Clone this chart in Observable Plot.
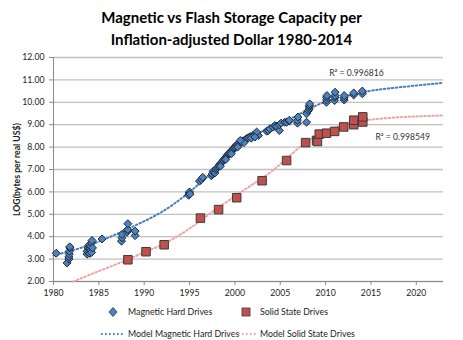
<!DOCTYPE html>
<html><head><meta charset="utf-8">
<script src="https://cdn.jsdelivr.net/npm/d3@7"></script>
<script src="https://cdn.jsdelivr.net/npm/@observablehq/plot@0.6"></script>
<style>
body{margin:0;background:#fff;font-family:Lato,"Open Sans",sans-serif;}
#wrap{position:relative;width:463px;height:340px;overflow:hidden;background:#fff;}
#title{position:absolute;left:0;top:6px;width:463px;text-align:center;font-weight:bold;font-size:15px;line-height:22px;color:#000;}
#chart{position:absolute;left:0;top:46px;}
.lg{position:absolute;font-size:8.8px;line-height:11px;color:#222;white-space:nowrap;}
.sw{position:absolute;}
g[aria-label="y-axis label"] text{font-weight:bold;}
</style>
</head><body>
<div id="wrap">
<div id="title">Magnetic vs Flash Storage Capacity per<br>Inflation-adjusted Dollar 1980-2014</div>
<div id="chart"></div>
<svg class="sw" style="left:108px;top:307px" width="10" height="10"><path d="M5,0.5L9,5L5,9.5L1,5Z" fill="#4f81bd" stroke="#1b2a3a" stroke-width="0.8"/></svg>
<div class="lg" style="left:128px;top:306px">Magnetic Hard Drives</div>
<svg class="sw" style="left:241px;top:307px" width="10" height="10"><rect x="1" y="1" width="8" height="8" fill="#c0504d" stroke="#3a3a3a" stroke-width="0.8"/></svg>
<div class="lg" style="left:260px;top:306px">Solid State Drives</div>
<svg class="sw" style="left:100px;top:331px" width="26" height="6"><line x1="1" y1="3" x2="25" y2="3" stroke="#4a7ebb" stroke-width="2" stroke-dasharray="1.6,2.4"/></svg>
<div class="lg" style="left:128px;top:328px">Model Magnetic Hard Drives</div>
<svg class="sw" style="left:233px;top:331px" width="26" height="6"><line x1="1" y1="3" x2="25" y2="3" stroke="#eba5a3" stroke-width="2" stroke-dasharray="1.6,2.4"/></svg>
<div class="lg" style="left:260px;top:328px">Model Solid State Drives</div>
</div>
<script>
// Magnetic hard drives: year, log10(bytes per real US$)
const hddYear = [1980.3,1981.5,1981.7,1981.7,1981.75,1981.75,1981.8,1981.8,
 1983.7,1983.7,1983.8,1983.9,1983.9,1984.0,1984.0,1984.0,1984.1,1984.1,1984.2,1984.2,1984.25,1984.3,
 1985.35,1987.5,1987.55,1987.55,1988.1,1988.15,1988.2,1988.2,1989.0,1989.0,
 1994.9,1994.95,1995.0,1995.05,1996.1,1996.3,1996.45,
 1997.4,1997.5,1997.6,1997.7,1997.8,1997.9,1998.0,1998.1,1998.2,1998.3,1998.4,1998.5,1998.6,1998.7,1998.8,1998.9,
 1999.0,1999.1,1999.2,1999.3,1999.4,1999.5,1999.6,1999.7,1999.8,1999.9,2000.0,2000.1,2000.2,2000.3,2000.4,2000.5,
 2000.7,2000.9,2001.1,2001.3,2001.5,2001.7,2002.0,2002.2,2002.4,2002.6,2002.4,
 1998.4,1999.0,1999.6,2000.3,2001.0,2000.6,2001.8,2002.2,
 2003.5,2003.7,2003.85,2004.2,2004.4,2004.6,2004.9,2004.9,2005.1,2005.5,2005.7,2006.0,2006.0,
 2006.9,2006.9,2006.95,2007.9,2007.9,2008.1,2008.2,2008.2,2008.2,2008.25,
 2010.1,2010.1,2010.1,2010.15,2011.0,2011.0,2011.05,2011.05,2012.05,2012.05,2012.05,2013.1,2013.1,2014.05,2014.05];
const hddValue = [3.26,2.83,3.0,3.1,3.22,3.35,3.5,3.55,
 3.22,3.35,3.5,3.3,3.6,3.25,3.45,3.65,3.4,3.55,3.3,3.72,3.83,3.5,
 3.9,3.8,3.95,4.1,4.2,4.3,4.32,4.58,4.05,4.25,
 5.85,5.95,6.0,5.9,6.48,6.55,6.65,
 6.72,6.8,6.9,6.95,6.85,7.0,7.05,7.1,7.15,7.2,7.25,7.3,7.35,7.4,7.45,7.5,
 7.55,7.6,7.65,7.7,7.72,7.78,7.82,7.88,7.92,7.97,8.0,8.05,8.1,8.12,8.15,8.2,
 8.24,8.28,8.32,8.38,8.42,8.47,8.52,8.57,8.6,8.52,8.67,
 7.15,7.45,7.7,8.0,8.2,8.3,8.4,8.45,
 8.71,8.74,8.82,8.89,8.96,8.93,8.74,9.0,9.07,9.11,9.11,9.16,9.2,
 9.07,9.2,9.34,9.11,9.49,9.63,9.71,9.8,9.86,9.93,
 10.0,10.11,10.23,10.3,10.08,10.23,10.3,10.45,10.1,10.2,10.3,10.33,10.42,10.38,10.5];
// Solid state drives
const ssdYear = [1988.2,1990.2,1992.2,1996.2,1998.2,2000.2,2003.0,2005.7,2007.8,2009.0,2009.1,2009.3,2010.1,2011.0,2012.0,2013.1,2013.1,2014.1,2014.1];
const ssdValue = [2.97,3.33,3.64,4.83,5.21,5.74,6.5,7.4,8.2,8.3,8.25,8.58,8.62,8.7,8.9,9.0,9.2,9.12,9.35];
// Model curves
const modelHddYear = [1980,1983,1986,1989,1992,1995,1998,2000,2002.5,2005,2007,2009.5,2012,2014.8,2017,2020,2023];
const modelHddValue = [3.16,3.5,3.95,4.5,5.12,6.0,7.05,7.8,8.6,9.05,9.45,9.95,10.25,10.5,10.62,10.75,10.87];
const modelSsdYear = [1982.2,1984,1986,1988,1990,1992,1994,1996,1998,2000,2002,2004,2006,2008,2010,2012,2014,2017,2020,2023];
const modelSsdValue = [2.0,2.3,2.62,2.95,3.3,3.65,4.1,4.65,5.25,5.8,6.35,6.9,7.6,8.25,8.7,9.0,9.18,9.3,9.37,9.41];
const xTicks = [1980,1985,1990,1995,2000,2005,2010,2015,2020];
const yTicks = [2,3,4,5,6,7,8,9,10,11,12];
const xDomain = [1980,2023];
const yDomain = [2,12];
const r2Text = ["R\u00b2 = 0.996816","R\u00b2 = 0.998549"];
const r2Year = [2013.4,2018.5];
const r2Value = [11.29,8.43];

const hdd = hddYear.map((d,i)=>({year:d,value:hddValue[i]}));
const ssd = ssdYear.map((d,i)=>({year:d,value:ssdValue[i]}));
const mHdd = modelHddYear.map((d,i)=>({year:d,value:modelHddValue[i]}));
const mSsd = modelSsdYear.map((d,i)=>({year:d,value:modelSsdValue[i]}));
const r2 = r2Text.map((t,i)=>({text:t,year:r2Year[i],value:r2Value[i]}));

const chart = Plot.plot({
  width:463, height:254,
  marginLeft:53, marginRight:20, marginTop:11, marginBottom:19,
  style:{fontFamily:"Lato, 'Open Sans', sans-serif", fontSize:"8.7px", color:"#222", background:"transparent", overflow:"visible"},
  x:{domain:xDomain},
  y:{domain:yDomain},
  marks:[
    Plot.gridY(yTicks,{stroke:"#c0c0c0", strokeOpacity:1, strokeWidth:1.3}),
    Plot.ruleX([xDomain[0]],{stroke:"#8a8a8a"}),
    Plot.ruleY([yDomain[0]],{stroke:"#8a8a8a"}),
    Plot.axisY(yTicks,{tickFormat:d3.format(".2f"), tickSize:4, tickPadding:5, stroke:"#8a8a8a",
      label:"LOG(bytes per real US$)", labelAnchor:"center", labelArrow:"none", labelOffset:40}),
    Plot.axisX(xTicks,{tickFormat:d=>String(d), tickSize:4, tickPadding:4, stroke:"#8a8a8a", label:null}),
    Plot.line(mHdd,{x:"year", y:"value", stroke:"#4a7ebb", strokeWidth:2, strokeDasharray:"1.6,2.4", curve:"natural"}),
    Plot.line(mSsd,{x:"year", y:"value", stroke:"#eba5a3", strokeWidth:2, strokeDasharray:"1.6,2.4", curve:"natural"}),
    Plot.dot(hdd,{x:"year", y:"value", symbol:"diamond2", r:3.6, fill:"#4f81bd", stroke:"#1b2a3a", strokeWidth:1}),
    Plot.dot(ssd,{x:"year", y:"value", symbol:"square", r:4.8, fill:"#c0504d", stroke:"#3a3a3a", strokeWidth:1}),
    Plot.text(r2,{x:"year", y:"value", text:"text", fontSize:8.6, fill:"#333"})
  ]
});
document.getElementById("chart").appendChild(chart);
</script>
</body></html>
